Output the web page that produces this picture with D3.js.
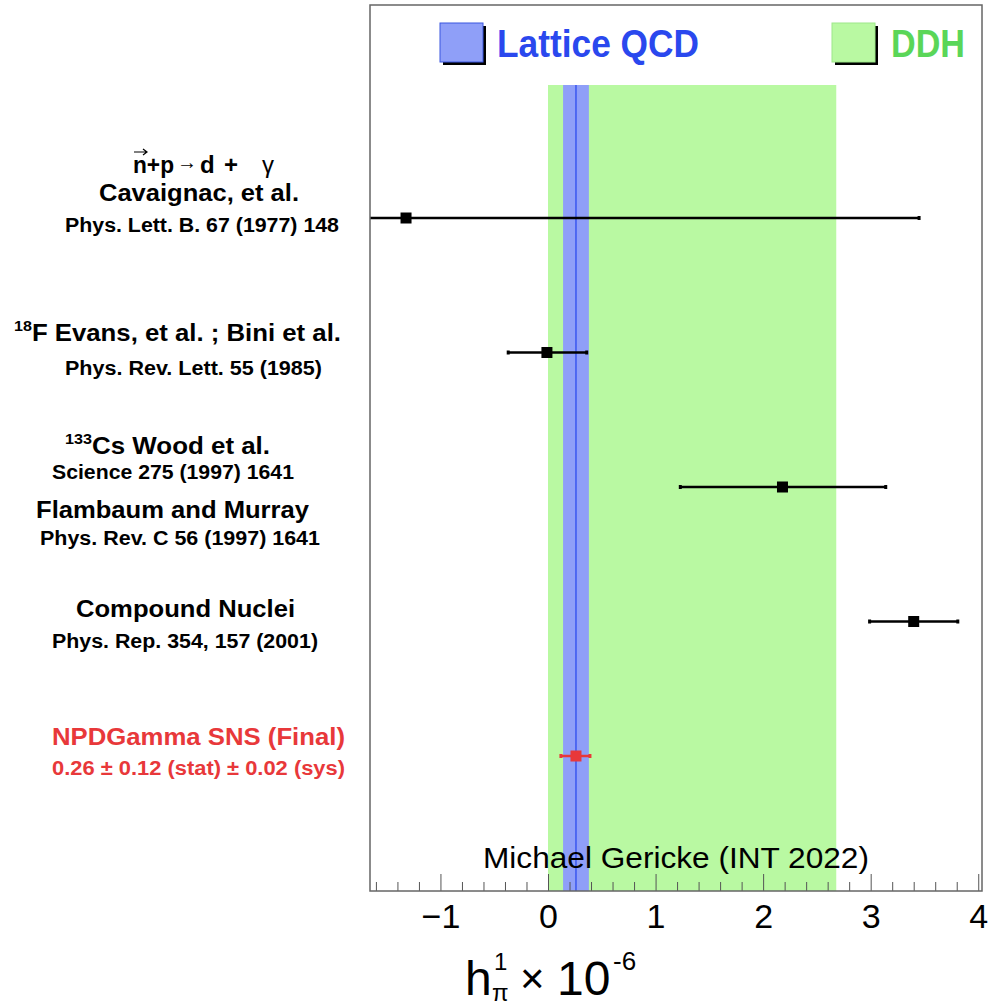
<!DOCTYPE html>
<html lang="en">
  <head>
    <meta charset="UTF-8">
    <title>h_pi^1 comparison</title>
    <style>
body {margin: 0; background: #fff;}
text {font-family: "Liberation Sans", Arial, Helvetica, sans-serif;}
</style>
  </head>
  <body>
<div id="my_dataviz"></div>
<script src="https://d3js.org/d3.v7.min.js"></script>
<script>

// measurements (h_pi^1 x 10^-6)
var experiments = ["np", "18F", "133Cs", "Compound", "NPDGamma"];
var centers = [-1.32, -0.01, 2.18, 3.40, 0.26];
var lows    = [-6.09, -0.37, 1.23, 2.99, 0.12];
var highs   = [ 3.45,  0.36, 3.14, 3.81, 0.39];
var isNPDG  = [false, false, false, false, true];

// theory bands
var ddhBand = [0, 2.68];
var latticeBand = [0.14, 0.38];
var latticeCenter = 0.26;

// axis ticks
var majorTicks = [-1, 0, 1, 2, 3, 4];
var minorTicks = [-1.6, -1.4, -1.2, -0.8, -0.6, -0.4, -0.2, 0.2, 0.4, 0.6, 0.8,
                  1.2, 1.4, 1.6, 1.8, 2.2, 2.4, 2.6, 2.8, 3.2, 3.4, 3.6, 3.8];

var W = 990, H = 1007;
var frame = {left: 370, right: 982, top: 5, bottom: 891};

var svg = d3.select("#my_dataviz")
  .append("svg")
    .attr("width", W)
    .attr("height", H);

svg.append("rect").attr("width", W).attr("height", H).attr("fill", "#fff");

var x = d3.scaleLinear()
  .domain([-1.655, 4.035])
  .range([frame.left, frame.right]);

var y = d3.scalePoint()
  .domain(experiments)
  .range([218, 756]);

svg.append("clipPath").attr("id", "plotclip")
  .append("rect")
    .attr("x", frame.left).attr("y", frame.top)
    .attr("width", frame.right - frame.left)
    .attr("height", frame.bottom - frame.top);

var plot = svg.append("g").attr("clip-path", "url(#plotclip)");

var bandTop = 85;

// DDH band
plot.append("rect")
  .attr("x", x(ddhBand[0]))
  .attr("y", bandTop)
  .attr("width", x(ddhBand[1]) - x(ddhBand[0]))
  .attr("height", frame.bottom - bandTop)
  .attr("fill", "#b9f9a2");

// Lattice band
plot.append("rect")
  .attr("x", x(latticeBand[0]))
  .attr("y", bandTop)
  .attr("width", x(latticeBand[1]) - x(latticeBand[0]))
  .attr("height", frame.bottom - bandTop)
  .attr("fill", "#8f9ff8");

plot.append("line")
  .attr("x1", x(latticeCenter)).attr("x2", x(latticeCenter))
  .attr("y1", bandTop).attr("y2", frame.bottom)
  .attr("stroke", "#3a56f0")
  .attr("stroke-width", 1.5);

var points = experiments.map(function(e, i) {
  return {name: e, c: centers[i], lo: lows[i], hi: highs[i], red: isNPDG[i]};
});

// error bars
plot.selectAll("line.err")
  .data(points)
  .enter()
  .append("line")
    .attr("class", "err")
    .attr("x1", function(d) { return x(d.lo); })
    .attr("x2", function(d) { return x(d.hi); })
    .attr("y1", function(d) { return y(d.name); })
    .attr("y2", function(d) { return y(d.name); })
    .attr("stroke", function(d) { return d.red ? "#e8383a" : "#000"; })
    .attr("stroke-width", 2.5);

// small end marks
plot.selectAll("rect.cap")
  .data(points.flatMap(function(d) { return [{d: d, v: d.lo}, {d: d, v: d.hi}]; }))
  .enter()
  .append("rect")
    .attr("class", "cap")
    .attr("x", function(p) { return x(p.v) - 1.5; })
    .attr("y", function(p) { return y(p.d.name) - 2; })
    .attr("width", 3)
    .attr("height", 4)
    .attr("fill", function(p) { return p.d.red ? "#e8383a" : "#000"; });

// markers
plot.selectAll("rect.mark")
  .data(points)
  .enter()
  .append("rect")
    .attr("class", "mark")
    .attr("x", function(d) { return x(d.c) - 5.5; })
    .attr("y", function(d) { return y(d.name) - 5.5; })
    .attr("width", 11)
    .attr("height", 11)
    .attr("fill", function(d) { return d.red ? "#e8383a" : "#000"; });

// credit text
svg.append("text")
  .attr("x", 483).attr("y", 868)
  .attr("font-size", 29)
  .attr("textLength", 386)
  .attr("lengthAdjust", "spacingAndGlyphs")
  .text("Michael Gericke (INT 2022)");

// axis ticks (inside the frame)
svg.append("g")
  .attr("transform", "translate(0," + frame.bottom + ")")
  .call(d3.axisBottom(x).tickValues(minorTicks).tickSize(-9).tickFormat(""))
  .call(function(g) {
    g.select(".domain").remove();
    g.selectAll("line").attr("stroke", "#555");
  });

var xAxis = svg.append("g")
  .attr("transform", "translate(0," + frame.bottom + ")")
  .call(d3.axisBottom(x).tickValues(majorTicks).tickSize(-17).tickPadding(0).tickFormat(d3.format("d")));
xAxis.select(".domain").remove();
xAxis.selectAll("line").attr("stroke", "#555");
xAxis.selectAll("text")
  .attr("font-size", 34)
  .attr("fill", "#000")
  .attr("dy", null)
  .attr("y", 37)
  .style("font-family", "'Liberation Sans', Arial, sans-serif");

// frame
svg.append("rect")
  .attr("x", frame.left).attr("y", frame.top)
  .attr("width", frame.right - frame.left)
  .attr("height", frame.bottom - frame.top)
  .attr("fill", "none")
  .attr("stroke", "#666")
  .attr("stroke-width", 1.5);

// axis title
svg.append("text").attr("x", 465).attr("y", 995).attr("font-size", 48).text("h");
svg.append("text").attr("x", 494).attr("y", 970).attr("font-size", 24).text("1");
svg.append("text").attr("x", 492).attr("y", 1001).attr("font-size", 24).text("π");
svg.append("text").attr("x", 520).attr("y", 993).attr("font-size", 42).text("×");
svg.append("text").attr("x", 557).attr("y", 995).attr("font-size", 48).text("10");
svg.append("text").attr("x", 613).attr("y", 970).attr("font-size", 26).text("-6");

// legend
function legendEntry(bx, fill, stroke, label, tx, tw, color) {
  svg.append("rect")
    .attr("x", bx + 3).attr("y", 26)
    .attr("width", 43).attr("height", 39)
    .attr("fill", "#000");
  svg.append("rect")
    .attr("x", bx).attr("y", 23)
    .attr("width", 43).attr("height", 39)
    .attr("fill", fill)
    .attr("stroke", stroke)
    .attr("stroke-width", 1);
  svg.append("text")
    .attr("x", tx).attr("y", 57)
    .attr("font-size", 38)
    .attr("font-weight", "bold")
    .attr("fill", color)
    .attr("textLength", tw)
    .attr("lengthAdjust", "spacingAndGlyphs")
    .text(label);
}
legendEntry(440, "#8f9ff8", "#3a56e0", "Lattice QCD", 497, 202, "#2a48ee");
legendEntry(832, "#b9f9a2", "#9ee88a", "DDH", 891, 74, "#5ad658");

// left-hand labels
var labels = [
  {t: "Cavaignac, et al.", x: 99, y: 201, s: 24, w: 200},
  {t: "Phys. Lett. B. 67 (1977) 148", x: 65, y: 232, s: 19.5, w: 274},
  {t: "Phys. Rev. Lett. 55 (1985)", x: 65, y: 375, s: 19.5, w: 257},
  {t: "Science 275 (1997) 1641", x: 52, y: 479, s: 19.5, w: 242},
  {t: "Flambaum and Murray", x: 36, y: 518, s: 24, w: 273},
  {t: "Phys. Rev. C 56 (1997) 1641", x: 40, y: 545, s: 19.5, w: 280},
  {t: "Compound Nuclei", x: 76, y: 617, s: 24, w: 219},
  {t: "Phys. Rep. 354, 157 (2001)", x: 52, y: 648, s: 19.5, w: 266},
  {t: "NPDGamma SNS (Final)", x: 52, y: 745, s: 24, w: 293, c: "#e8383a"},
  {t: "0.26 \u00b1 0.12 (stat) \u00b1 0.02 (sys)", x: 52, y: 775, s: 19.5, w: 293, c: "#e8383a"}
];

svg.selectAll("text.lbl")
  .data(labels)
  .enter()
  .append("text")
    .attr("class", "lbl")
    .attr("x", function(d) { return d.x; })
    .attr("y", function(d) { return d.y; })
    .attr("font-size", function(d) { return d.s; })
    .attr("font-weight", "bold")
    .attr("fill", function(d) { return d.c || "#000"; })
    .attr("textLength", function(d) { return d.w; })
    .attr("lengthAdjust", "spacingAndGlyphs")
    .text(function(d) { return d.t; });

// reaction line n+p -> d + gamma
function bold(tx, ty, s, str) {
  return svg.append("text").attr("x", tx).attr("y", ty)
    .attr("font-size", s).attr("font-weight", "bold").text(str);
}
bold(133, 173, 24, "n+p")
  .attr("textLength", 41).attr("lengthAdjust", "spacingAndGlyphs");
// vector arrow above the n, drawn as a path
svg.append("path")
  .attr("d", "M134,152 L147,152 M143,149 L147,152 L143,155")
  .attr("fill", "none").attr("stroke", "#000").attr("stroke-width", 1.2);
svg.append("text").attr("x", 177).attr("y", 169).attr("font-size", 20).text("→");
bold(200, 173, 24, "d");
bold(224, 173, 24, "+");
svg.append("text").attr("x", 262).attr("y", 173).attr("font-size", 24).text("γ");

// superscripted isotope labels
var f18 = svg.append("text").attr("x", 14).attr("y", 341)
  .attr("font-weight", "bold").attr("textLength", 327)
  .attr("lengthAdjust", "spacingAndGlyphs");
f18.append("tspan").attr("font-size", 15).attr("dy", -10).text("18");
f18.append("tspan").attr("font-size", 24).attr("dy", 10).text("F Evans, et al. ; Bini et al.");

var cs = svg.append("text").attr("x", 65).attr("y", 454)
  .attr("font-weight", "bold").attr("textLength", 205)
  .attr("lengthAdjust", "spacingAndGlyphs");
cs.append("tspan").attr("font-size", 15).attr("dy", -10).text("133");
cs.append("tspan").attr("font-size", 24).attr("dy", 10).text("Cs Wood et al.");

</script>
  </body>
</html>
